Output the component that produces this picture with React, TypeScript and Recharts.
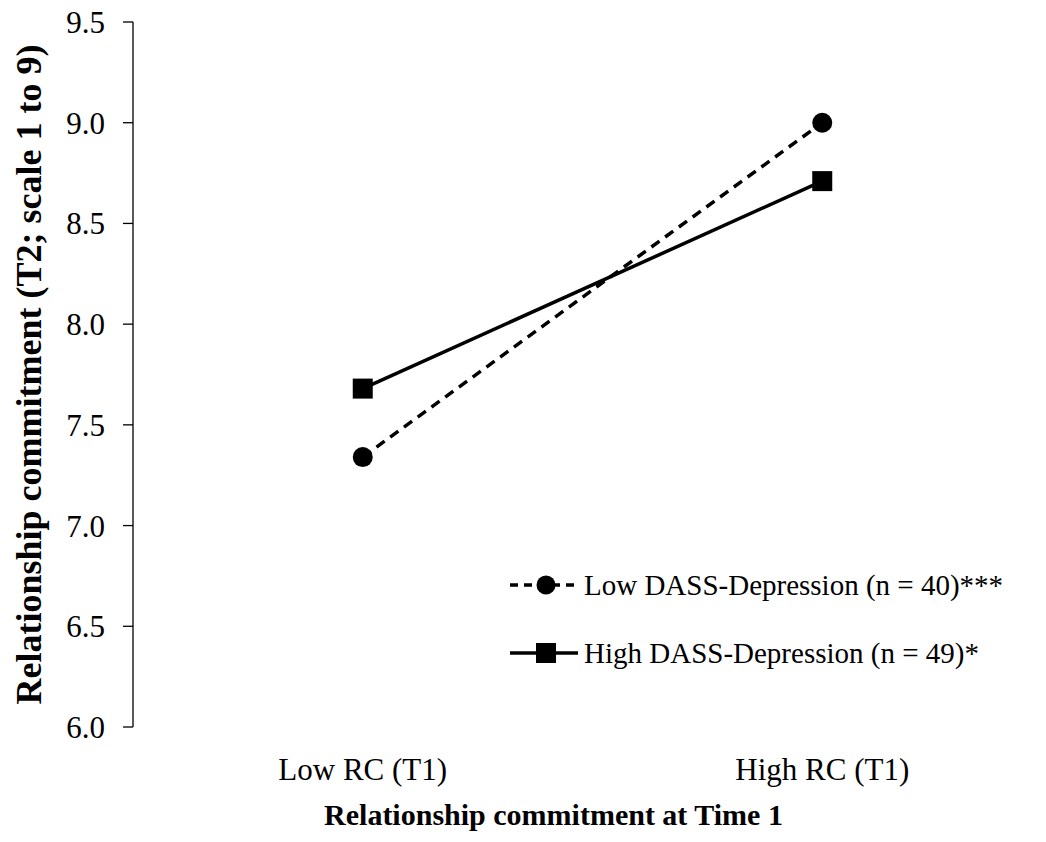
import React from "react";
import { LineChart, Line, XAxis, YAxis, Legend, Label } from "recharts";

// Categories on the x axis (Time 1 relationship commitment level)
const categories = ["Low RC (T1)", "High RC (T1)"];
// Mean relationship commitment at T2 for each group
const lowDassValues = [7.34, 9.0];
const highDassValues = [7.68, 8.71];
// Y axis ticks
const yTicks = [6.0, 6.5, 7.0, 7.5, 8.0, 8.5, 9.0, 9.5];

const seriesOrder = ["low", "high"];
const seriesNames = {
  low: "Low DASS-Depression (n = 40)***",
  high: "High DASS-Depression (n = 49)*",
};

const data = categories.map((c, i) => ({
  x: i + 0.5,
  category: c,
  low: lowDassValues[i],
  high: highDassValues[i],
}));

const FONT = '"Liberation Serif", "Times New Roman", serif';
const INK = "#000";

const CircleDot = (props: any) => {
  const { cx, cy, index } = props;
  if (cx == null || cy == null) return null;
  return <circle key={`c-${index}`} cx={cx} cy={cy} r={10} fill={INK} stroke="none" />;
};

const SquareDot = (props: any) => {
  const { cx, cy, index } = props;
  if (cx == null || cy == null) return null;
  return (
    <rect key={`s-${index}`} x={cx - 10} y={cy - 10} width={20} height={20} fill={INK} stroke="none" />
  );
};

const legendStyle: Record<string, { dash?: string; marker: "circle" | "square" }> = {
  low: { dash: "8 6", marker: "circle" },
  high: { marker: "square" },
};

const LegendContent = (props: any) => {
  const payload = [...(props.payload || [])].sort(
    (a: any, b: any) => seriesOrder.indexOf(a.dataKey) - seriesOrder.indexOf(b.dataKey)
  );
  return (
    <div style={{ fontFamily: FONT, fontSize: 29, color: INK }}>
      {payload.map((entry: any) => {
        const key = entry.dataKey as string;
        const st = legendStyle[key];
        return (
          <div
            key={key}
            style={{ display: "flex", alignItems: "center", height: 34, marginBottom: 34 }}
          >
            <svg width={76} height={30} style={{ display: "block" }}>
              <line
                x1={2}
                y1={15}
                x2={70}
                y2={15}
                stroke={INK}
                strokeWidth={3.5}
                strokeDasharray={st.dash}
              />
              {st.marker === "circle" ? (
                <circle cx={38} cy={15} r={9.5} fill={INK} />
              ) : (
                <rect x={28} y={5} width={20} height={20} fill={INK} />
              )}
            </svg>
            <span style={{ whiteSpace: "nowrap" }}>{entry.value}</span>
          </div>
        );
      })}
    </div>
  );
};

const YTitle = (props: any) => {
  const vb = props.viewBox || {};
  const cx = vb.x + 29;
  const cy = vb.y + vb.height / 2;
  return (
    <text
      x={cx}
      y={cy}
      transform={`rotate(-90, ${cx}, ${cy})`}
      textAnchor="middle"
      dominantBaseline="central"
      fontFamily={FONT}
      fontSize={36}
      fontWeight="bold"
      fill={INK}
    >
      Relationship commitment (T2; scale 1 to 9)
    </text>
  );
};

export default function App() {
  return (
    <div
      style={{
        position: "absolute",
        left: 0,
        top: 0,
        width: 1046,
        height: 842,
        overflow: "hidden",
        background: "#fff",
      }}
    >
      <LineChart
        width={1052}
        height={842}
        data={data}
        margin={{ top: 22, right: 0, bottom: 0, left: 0 }}
        style={{ fontFamily: FONT }}
      >
        {/* boundary axis: line and tick marks between categories */}
        <XAxis
          xAxisId="frame"
          type="number"
          dataKey="x"
          domain={[0, 2]}
          ticks={[0, 1, 2]}
          tick={false}
          tickSize={9}
          height={0}
          stroke={INK}
          strokeWidth={1.3}
        />
        {/* label axis: category names centred in each band */}
        <XAxis
          xAxisId="labels"
          type="number"
          dataKey="x"
          domain={[0, 2]}
          ticks={[0.5, 1.5]}
          tickFormatter={(v: number) => categories[Math.floor(v)]}
          axisLine={false}
          tickLine={false}
          tickSize={0}
          tickMargin={31}
          height={115}
          tick={{ fill: INK, fontSize: 31, fontFamily: FONT }}
        >
          <Label
            value="Relationship commitment at Time 1"
            position="insideBottom"
            offset={17}
            dx={-39}
            style={{ fontFamily: FONT, fontSize: 30, fontWeight: "bold", fill: INK }}
          />
        </XAxis>
        <YAxis
          type="number"
          domain={[6, 9.5]}
          ticks={yTicks}
          tickFormatter={(v: number) => v.toFixed(1)}
          width={133}
          tickSize={10}
          tickMargin={18}
          stroke={INK}
          strokeWidth={1.3}
          tick={{ fill: INK, fontSize: 31, fontFamily: FONT }}
          interval={0}
        >
          <Label content={<YTitle />} />
        </YAxis>
        <Legend
          layout="horizontal"
          verticalAlign="middle"
          align="center"
          content={<LegendContent />}
          wrapperStyle={{ position: "absolute", left: 508, top: 568, width: "auto" }}
        />
        <Line
          xAxisId="frame"
          type="linear"
          dataKey="low"
          name={seriesNames.low}
          stroke={INK}
          strokeWidth={3.5}
          strokeDasharray="10 7"
          dot={CircleDot}
          activeDot={false}
          isAnimationActive={false}
        />
        <Line
          xAxisId="frame"
          type="linear"
          dataKey="high"
          name={seriesNames.high}
          stroke={INK}
          strokeWidth={3.5}
          dot={SquareDot}
          activeDot={false}
          isAnimationActive={false}
        />
      </LineChart>
    </div>
  );
}
